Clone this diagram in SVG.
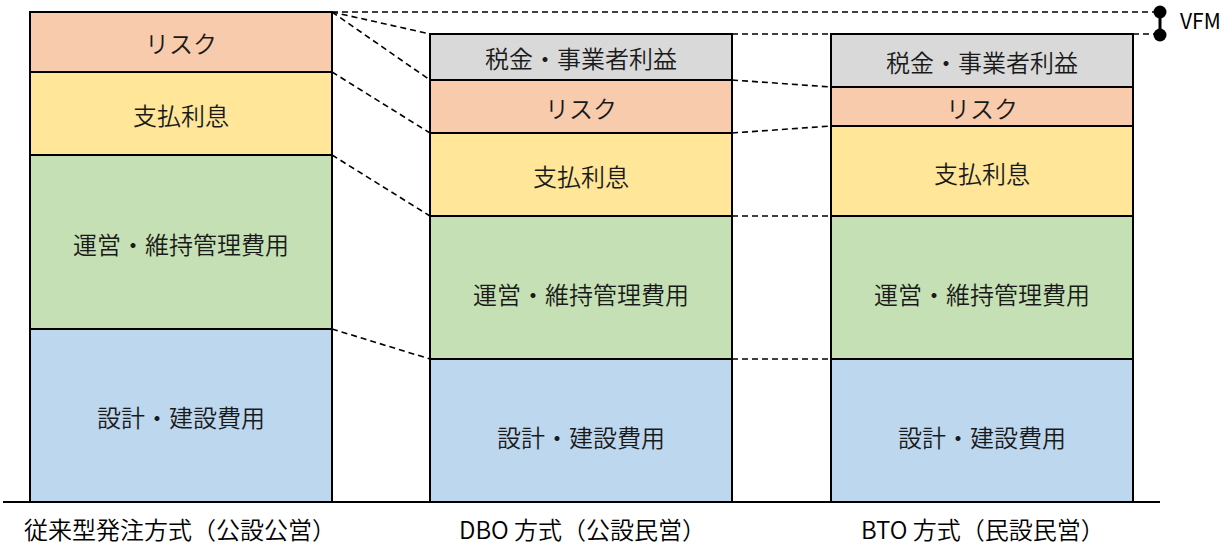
<svg xmlns="http://www.w3.org/2000/svg" width="1223" height="547" viewBox="0 0 1223 547">
<style>
.seg{stroke:#000;stroke-width:2}
.risk{fill:#F8CBAD}
.int{fill:#FFE699}
.om{fill:#C5E0B4}
.dc{fill:#BDD7EE}
.tax{fill:#D9D9D9}
.t{font-family:"Noto Sans CJK JP","Noto Sans",sans-serif;font-size:24px;font-weight:350;fill:#1a1a1a;text-anchor:middle;dominant-baseline:central}
.lab{font-family:"Noto Sans CJK JP","Noto Sans",sans-serif;font-size:24px;font-weight:350;fill:#000}
.d{stroke:#000;stroke-width:1.6;stroke-dasharray:6 4;fill:none}
</style>
<rect width="1223" height="547" fill="#fff"/>
<g id="connectors">
<line class="d" x1="332" y1="12" x2="1160" y2="12"/>
<line class="d" x1="332" y1="12" x2="430" y2="34"/>
<line class="d" x1="332" y1="12" x2="430" y2="80"/>
<line class="d" x1="332" y1="72" x2="430" y2="133"/>
<line class="d" x1="332" y1="155" x2="430" y2="216"/>
<line class="d" x1="332" y1="329" x2="430" y2="359"/>
<line class="d" x1="732" y1="34" x2="831" y2="34"/>
<line class="d" x1="1133" y1="34" x2="1160" y2="34"/>
<line class="d" x1="732" y1="80" x2="831" y2="87"/>
<line class="d" x1="732" y1="133" x2="831" y2="126"/>
<line class="d" x1="732" y1="216" x2="831" y2="216"/>
<line class="d" x1="732" y1="359" x2="831" y2="359"/>
</g>
<g id="col-conventional">
<rect class="seg risk" x="30" y="12" width="302" height="60"/>
<text class="t" x="181" y="42">リスク</text>
<rect class="seg int" x="30" y="72" width="302" height="83"/>
<text class="t" x="181" y="114">支払利息</text>
<rect class="seg om" x="30" y="155" width="302" height="174"/>
<text class="t" x="181" y="243">運営・維持管理費用</text>
<rect class="seg dc" x="30" y="329" width="302" height="173"/>
<text class="t" x="181" y="416">設計・建設費用</text>
</g>
<g id="col-dbo">
<rect class="seg tax" x="430" y="34" width="302" height="46"/>
<text class="t" x="581" y="57">税金・事業者利益</text>
<rect class="seg risk" x="430" y="80" width="302" height="53"/>
<text class="t" x="581" y="107">リスク</text>
<rect class="seg int" x="430" y="133" width="302" height="83"/>
<text class="t" x="581" y="175">支払利息</text>
<rect class="seg om" x="430" y="216" width="302" height="143"/>
<text class="t" x="581" y="293">運営・維持管理費用</text>
<rect class="seg dc" x="430" y="359" width="302" height="143"/>
<text class="t" x="581" y="436">設計・建設費用</text>
</g>
<g id="col-bto">
<rect class="seg tax" x="831" y="34" width="302" height="53"/>
<text class="t" x="982" y="61">税金・事業者利益</text>
<rect class="seg risk" x="831" y="87" width="302" height="39"/>
<text class="t" x="982" y="107">リスク</text>
<rect class="seg int" x="831" y="126" width="302" height="90"/>
<text class="t" x="982" y="172">支払利息</text>
<rect class="seg om" x="831" y="216" width="302" height="143"/>
<text class="t" x="982" y="293">運営・維持管理費用</text>
<rect class="seg dc" x="831" y="359" width="302" height="143"/>
<text class="t" x="982" y="436">設計・建設費用</text>
</g>
<g id="baseline">
<line x1="3" y1="502" x2="1160" y2="502" stroke="#000" stroke-width="2"/>
</g>
<g id="vfm">
<line x1="1160" y1="12" x2="1160" y2="35" stroke="#000" stroke-width="3"/>
<circle cx="1160" cy="12" r="6.5" fill="#000"/>
<circle cx="1160" cy="35" r="6.5" fill="#000"/>
<text class="lab" x="1180" y="29" style="font-size:21px;font-weight:400">VFM</text>
</g>
<g id="labels">
<text class="lab" x="24" y="539">従来型発注方式（公設公営）</text>
<text class="lab" x="459" y="539">DBO 方式（公設民営）</text>
<text class="lab" x="861" y="539">BTO 方式（民設民営）</text>
</g>
</svg>
